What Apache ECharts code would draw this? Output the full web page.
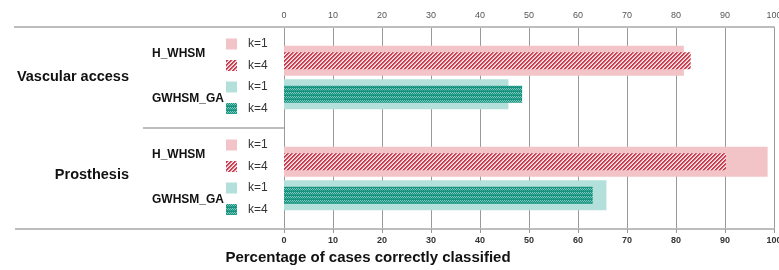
<!DOCTYPE html>
<html>
<head>
<meta charset="utf-8">
<script src="https://cdn.jsdelivr.net/npm/echarts@6/dist/echarts.min.js"></script>
<style>
  html, body { margin: 0; padding: 0; background: #fff; }
  #chart { width: 779px; height: 270px; }
</style>
</head>
<body>
<div id="chart"></div>
<script>
// rows of the table (blank entries are the group borders)
var rowLabels = ['', 'H_WHSM', 'GWHSM_GA', '', 'H_WHSM', 'GWHSM_GA', ''];
var groupLabels = ['Vascular access', 'Prosthesis'];
var seriesNames = ['H_WHSM k=1', 'H_WHSM k=4', 'GWHSM_GA k=1', 'GWHSM_GA k=4'];
// values per group: [Vascular access, Prosthesis]
var hwhsmK1 = [81.6, 98.7];
var hwhsmK4 = [83.0, 90.2];
var gwhsmK1 = [45.8, 65.8];
var gwhsmK4 = [48.6, 63.0];
var xMin = 0, xMax = 100, xStep = 10;
var xTitle = 'Percentage of cases correctly classified';

var FONT = "'Liberation Sans', Arial, sans-serif";

// put the two group values on the right rows
function place(values, rowName) {
  var out = [], g = 0;
  for (var i = 0; i < rowLabels.length; i++) {
    if (rowLabels[i] === rowName) { out.push(values[g]); g++; }
    else out.push('-');
  }
  return out;
}

function stripes() {
  var c = document.createElement('canvas');
  c.width = 4; c.height = 4;
  var ctx = c.getContext('2d');
  var cols = ['#c23648', '#cf4b5c', '#f0b3bb', '#fdf0f2'];
  for (var x = 0; x < 4; x++) for (var y = 0; y < 4; y++) {
    ctx.fillStyle = cols[(x + y) % 4];
    ctx.fillRect(x, y, 1, 1);
  }
  return { image: c, repeat: 'repeat' };
}

function zigzag() {
  var c = document.createElement('canvas');
  c.width = 4; c.height = 4;
  var ctx = c.getContext('2d');
  ctx.fillStyle = '#17927e';
  ctx.fillRect(0, 0, 4, 4);
  ctx.fillStyle = '#7fcbbf';
  [[0, 0], [1, 1], [2, 0], [3, 1]].forEach(function (p) { ctx.fillRect(p[0], p[1], 1, 1); });
  ctx.fillStyle = '#3aa896';
  [[0, 2], [2, 2]].forEach(function (p) { ctx.fillRect(p[0], p[1], 1, 1); });
  return { image: c, repeat: 'repeat' };
}

var myChart = echarts.init(document.getElementById('chart'));

function legendAt(top) {
  return {
    data: seriesNames,
    orient: 'vertical',
    left: 226,
    top: top,
    padding: 0,
    icon: 'rect',
    itemWidth: 11,
    itemHeight: 11,
    itemGap: 9.5,
    selectedMode: false,
    formatter: function (name) { return name.split(' ')[1]; },
    textStyle: { fontFamily: FONT, fontSize: 12, color: '#333', padding: [0, 0, 0, 6] }
  };
}

var option = {
  animation: false,
  title: {
    text: xTitle,
    left: 368,
    textAlign: 'center',
    top: 250,
    padding: 0,
    textStyle: { fontFamily: FONT, fontSize: 15, fontWeight: 'bold', color: '#111' }
  },
  legend: [legendAt(38), legendAt(139)],
  grid: { left: 284, right: 5, top: 27, bottom: 41, containLabel: false, outerBoundsMode: 'none' },
  xAxis: [
    {
      type: 'value', position: 'bottom', min: xMin, max: xMax, interval: xStep,
      axisLine: { show: true, lineStyle: { color: '#bdbdbd', width: 2 } },
      axisTick: { show: true, length: 4, lineStyle: { color: '#999' } },
      axisLabel: { margin: 7, fontFamily: FONT, fontSize: 9, fontWeight: 'bold', color: '#333' },
      splitLine: { show: true, lineStyle: { color: '#999', width: 1 } }
    },
    {
      type: 'value', position: 'top', min: xMin, max: xMax, interval: xStep,
      axisLine: { show: true, lineStyle: { color: '#bdbdbd', width: 2 } },
      axisTick: { show: false },
      axisLabel: { margin: 7, fontFamily: FONT, fontSize: 9, color: '#555' },
      splitLine: { show: false }
    }
  ],
  yAxis: [
    {
      type: 'category', data: rowLabels, inverse: true, boundaryGap: false,
      axisLine: { show: true, lineStyle: { color: '#999', width: 1 } },
      axisTick: { show: false },
      axisLabel: {
        margin: 132, align: 'left', interval: 0,
        formatter: function (v, i) { return (i % 3 === 1 ? '{a|' : '{b|') + v + '}'; },
        rich: {
          a: { fontFamily: FONT, fontSize: 12, fontWeight: 'bold', color: '#111', padding: [0, 0, 14, 0] },
          b: { fontFamily: FONT, fontSize: 12, fontWeight: 'bold', color: '#111', padding: [9, 0, 0, 0] }
        }
      }
    },
    {
      type: 'category', data: groupLabels, inverse: true, position: 'left',
      axisLine: { show: false },
      axisTick: { show: true, length: 141, lineStyle: { color: '#bdbdbd', width: 2 } },
      axisLabel: {
        margin: 155, align: 'right',
        formatter: function (v, i) { return (i === 0 ? '{a|' : '{b|') + v + '}'; },
        rich: {
          a: { fontFamily: FONT, fontSize: 14.5, fontWeight: 'bold', color: '#111', padding: [0, 0, 2, 0] },
          b: { fontFamily: FONT, fontSize: 14.5, fontWeight: 'bold', color: '#111', padding: [0, 0, 8, 0] }
        }
      }
    },
    {
      type: 'category', data: rowLabels, inverse: true, boundaryGap: false, position: 'left',
      show: false
    }
  ],
  graphic: [
    { type: 'line', shape: { x1: 14, y1: 27, x2: 284, y2: 27 }, style: { stroke: '#bdbdbd', lineWidth: 2 } },
    { type: 'line', shape: { x1: 15, y1: 229, x2: 284, y2: 229 }, style: { stroke: '#bdbdbd', lineWidth: 2 } }
  ],
  series: [
    {
      name: seriesNames[0], type: 'bar', yAxisIndex: 0, barWidth: 30, barGap: '-100%',
      itemStyle: { color: '#f2c3c7' }, data: place(hwhsmK1, 'H_WHSM')
    },
    {
      name: seriesNames[1], type: 'bar', yAxisIndex: 2, barWidth: 17, barGap: '-100%',
      itemStyle: { color: stripes() }, data: place(hwhsmK4, 'H_WHSM')
    },
    {
      name: seriesNames[2], type: 'bar', yAxisIndex: 0, barWidth: 30, barGap: '-100%',
      itemStyle: { color: '#b3e0da' }, data: place(gwhsmK1, 'GWHSM_GA')
    },
    {
      name: seriesNames[3], type: 'bar', yAxisIndex: 2, barWidth: 17, barGap: '-100%',
      itemStyle: { color: zigzag() }, data: place(gwhsmK4, 'GWHSM_GA')
    }
  ]
};
myChart.setOption(option);
</script>
</body>
</html>
